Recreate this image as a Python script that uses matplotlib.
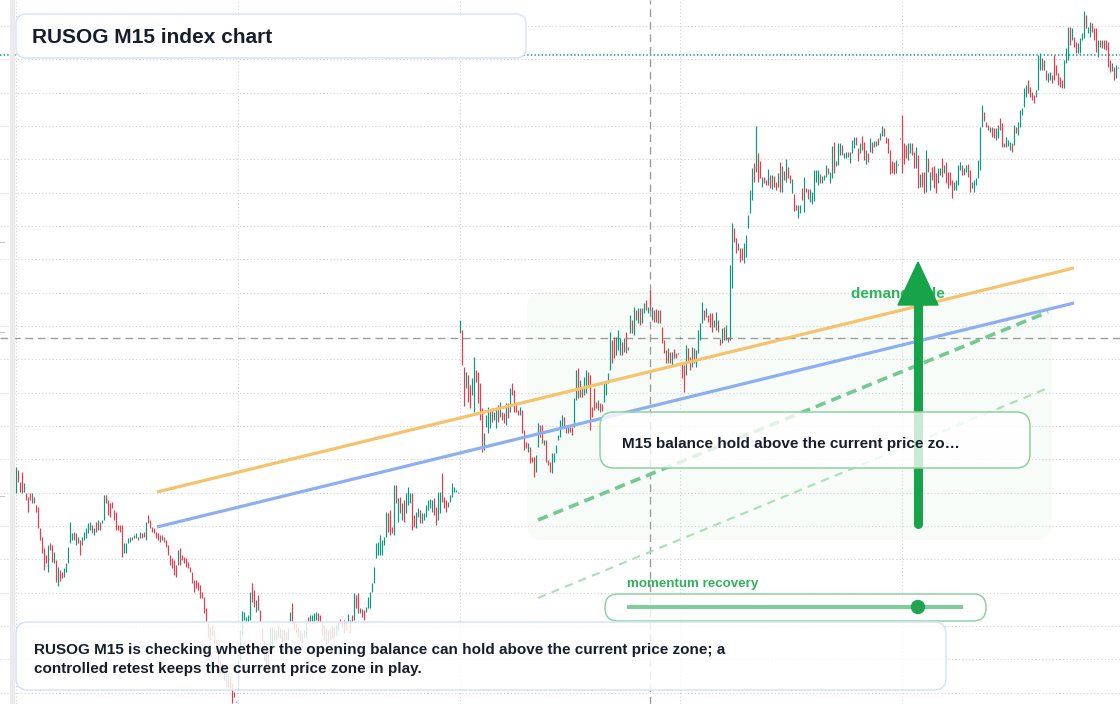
import matplotlib
matplotlib.use("Agg")
import matplotlib.pyplot as plt
import numpy as np
from matplotlib.patches import FancyBboxPatch, Polygon, Circle, Rectangle
from matplotlib.transforms import Affine2D, IdentityTransform

W, H, DPI = 1120, 704, 100
plt.rcParams['font.family'] = ['Liberation Sans', 'DejaVu Sans']
plt.rcParams['lines.scale_dashes'] = False

# ---------------- data (M15 candles, index points) ----------------
opens = [
    211, 234, 222, 232, 212, 211, 207, 211, 201, 207, 199, 197, 176, 167, 156, 149, 132, 161, 159, 141,
    144, 118, 134, 132, 127, 132, 141, 161, 164, 172, 159, 167, 164, 159, 164, 166, 171, 174, 179, 169,
    182, 174, 182, 181, 184, 209, 204, 201, 202, 194, 192, 179, 179, 179, 151, 151, 161, 162, 167, 166,
    166, 167, 166, 171, 172, 164, 189, 184, 177, 176, 172, 171, 169, 164, 167, 164, 159, 149, 146, 144,
    139, 139, 156, 149, 147, 146, 142, 137, 132, 124, 124, 122, 119, 112, 107, 96, 81, 77, 69, 74,
    64, 51, 44, 41, 24, 34, 17, 27, 21, 12, 2, 14, 44, 69, 84, 82, 82, 84, 121, 114,
    92, 109, 94, 77, 64, 37, 57, 51, 54, 76, 64, 67, 76, 74, 64, 72, 64, 81, 101, 82,
    81, 77, 64, 71, 66, 67, 87, 82, 82, 82, 84, 91, 89, 82, 64, 76, 61, 76, 66, 77,
    68, 74, 85, 82, 84, 74, 82, 84, 89, 84, 109, 111, 91, 95, 94, 92, 96, 96, 112, 121,
    146, 149, 149, 149, 159, 167, 191, 194, 177, 169, 219, 182, 207, 184, 204, 191, 199, 201, 211, 189,
    176, 187, 194, 181, 184, 187, 194, 196, 192, 206, 197, 184, 191, 231, 207, 204, 197, 202, 207, 212,
    212, 211,
    371, 374, 337, 316, 329, 319, 309, 292, 334, 332, 321, 296, 254, 277, 271, 276, 296, 284, 276, 299,
    287, 292, 291, 279, 301, 292, 321, 314, 299, 294, 289, 294, 274, 262, 252, 257, 247, 247, 232, 257,
    279, 279, 259, 264, 244, 242, 231, 242, 251, 264, 267, 277, 287, 279, 271, 277, 277, 277, 304, 336,
    307, 317, 309, 311, 332, 329, 297, 316, 302, 294, 301, 300, 302, 309, 321, 334, 364, 367, 349, 354,
    349, 362, 352, 372, 354, 371, 384, 369, 394, 381, 396, 381, 391, 404, 391, 414, 384, 394, 395, 381,
    394, 377, 364, 354, 341, 352, 339, 355, 351, 350, 366,
    342, 339, 329, 356, 347, 337, 356, 337, 351, 364, 381, 394, 387, 389, 391, 391, 377, 374, 384, 365,
    361, 377, 364, 367, 364, 416, 476, 466, 454, 456, 456, 441, 447, 476, 491, 504, 541, 532, 551, 543,
    517, 527, 524, 519, 529, 515, 528, 522, 517, 542, 512, 533, 522, 537, 529, 511, 510, 499, 486, 491,
    516, 492, 516, 515, 502, 500, 503, 522, 519, 530, 521, 524, 527, 536, 521, 526, 562, 538, 539, 549,
    559, 546, 546, 552, 541, 551, 556, 567, 556, 551, 568, 562, 540, 551, 552, 562, 557, 558, 566, 564,
    568, 576, 567, 566, 554, 543, 542, 531, 539, 565,
    589, 561, 559, 544, 551, 561, 552, 536, 549, 517, 532, 532, 512, 546, 514, 537, 538, 531, 521, 529,
    546, 531, 542, 532, 532, 524, 514, 514, 519, 534, 539, 529, 532, 540, 534, 516, 512, 519, 526, 534,
    577, 592, 582, 579, 572, 577, 576, 564, 566, 586, 581, 561, 557, 558, 554, 561, 559, 577, 569, 577,
    589, 597, 607, 624, 617, 612, 609, 607, 614, 634, 646, 634, 634, 622, 624, 629, 649, 639, 631, 627,
    624, 616, 641, 644, 677, 664, 667, 662, 651, 651, 664, 666, 689, 671, 667, 681, 676, 676, 647, 664,
    656, 664, 664, 662, 644, 633, 637, 626, 636,
]
closes = [
    237, 222, 212, 211, 221, 204, 192, 204, 211, 201, 192, 176, 164, 151, 134, 141, 159, 154, 142, 152,
    122, 137, 123, 126, 136, 141, 157, 182, 171, 164, 171, 161, 149, 167, 172, 176, 181, 182, 171, 176,
    172, 184, 174, 184, 209, 201, 189, 187, 196, 184, 174, 174, 172, 147, 161, 161, 166, 167, 164, 169,
    171, 164, 172, 166, 167, 182, 181, 176, 172, 171, 166, 164, 162, 169, 162, 157, 149, 139, 136, 129,
    127, 154, 139, 144, 141, 137, 136, 132, 121, 112, 116, 114, 106, 106, 91, 82, 67, 64, 79, 61,
    51, 41, 31, 31, 37, 17, 31, 16, 1, 7, 3, 44, 74, 93, 92, 87, 89, 112, 102, 97,
    104, 94, 82, 64, 44, 61, 31, 77, 77, 64, 74, 79, 66, 61, 74, 64, 76, 92, 82, 74,
    71, 67, 74, 61, 74, 81, 82, 89, 89, 91, 92, 82, 82, 69, 79, 59, 74, 64, 78, 67,
    79, 82, 81, 77, 71, 82, 90, 71, 82, 111, 96, 91, 96, 87, 84, 97, 107, 112, 121, 137,
    161, 162, 169, 164, 167, 192, 172, 169, 171, 219, 201, 206, 191, 201, 182, 211, 217, 211, 174, 177,
    192, 196, 181, 191, 191, 199, 204, 205, 204, 189, 179, 212, 212, 202, 196, 192, 202, 209, 221, 217,
    214, 212,
    384, 339, 298, 332, 302, 296, 326, 347, 322, 301, 284, 252, 271, 289, 297, 294, 282, 292, 296, 282,
    302, 284, 281, 301, 286, 316, 309, 292, 292, 289, 297, 271, 254, 256, 261, 241, 242, 227, 249, 281,
    267, 261, 264, 242, 239, 232, 251, 251, 259, 269, 284, 289, 277, 271, 277, 272, 269, 306, 334, 306,
    324, 307, 327, 334, 319, 274, 287, 294, 296, 304, 292, 293, 321, 322, 331, 372, 341, 346, 367, 374,
    366, 349, 366, 351, 357, 389, 371, 397, 384, 396, 379, 396, 401, 394, 397, 394, 397, 382, 382, 394,
    381, 361, 351, 341, 356, 341, 352, 346, 346, 351, 367,
    326, 312, 359, 342, 334, 357, 341, 354, 374, 381, 402, 384, 396, 382, 377, 372, 384, 392, 372, 359,
    376, 364, 379, 362, 439, 481, 462, 451, 461, 442, 444, 461, 469, 489, 514, 536, 522, 578, 522, 526,
    527, 521, 519, 535, 516, 529, 517, 514, 531, 512, 538, 524, 545, 526, 521, 525, 493, 494, 499, 499,
    504, 527, 512, 505, 515, 512, 534, 534, 534, 521, 528, 529, 539, 530, 532, 558, 531, 543, 561, 561,
    549, 551, 552, 547, 552, 564, 567, 559, 543, 561, 554, 544, 554, 542, 566, 551, 563, 563, 559, 571,
    578, 568, 561, 551, 530, 531, 530, 544, 540, 566,
    531, 540, 546, 561, 561, 549, 536, 557, 516, 530, 517, 511, 554, 532, 532, 524, 516, 511, 536, 536,
    527, 539, 521, 516, 519, 506, 522, 524, 539, 542, 529, 536, 539, 527, 512, 522, 524, 526, 544, 577,
    599, 583, 577, 574, 577, 567, 566, 576, 579, 574, 557, 557, 567, 564, 562, 552, 579, 571, 582, 594,
    596, 616, 619, 611, 607, 604, 601, 614, 649, 651, 634, 644, 624, 631, 632, 621, 624, 629, 619, 617,
    616, 644, 656, 677, 659, 676, 657, 651, 661, 666, 671, 693, 676, 677, 682, 672, 664, 652, 664, 657,
    664, 655, 654, 637, 632, 641, 624, 639, 637,
]

session_starts = [0, 111, 222, 332, 443]          # candle index of each session open
last_price = 649
crosshair = (317, 366)                            # (candle index, price)
resistance_line = ([70.75, 529.25], [212, 436])   # orange trendline
support_line = ([70.75, 529.25], [177, 401])      # blue trendline
projection_upper = ([261.25, 516.25], [184, 392])
projection_lower = ([261.25, 516.25], [106, 316])
demand_zone = (255.75, 518.25, 164, 412)          # x0, x1, low, high
arrow_x, arrow_from, arrow_to = 451.25, 180, 442
slider_value = 0.866

title_text = "RUSOG M15 index chart"
summary_lines = [
    "RUSOG M15 is checking whether the opening balance can hold above the current price zone; a",
    "controlled retest keeps the current price zone in play.",
]
callout_text = "M15 balance hold above the current price zo\u2026"
zone_label = "demand side"
slider_label = "momentum recovery"

UP, DOWN = '#089981', '#f23645'
GREEN = '#16a34a'
LABEL_GREEN = '#2eb35c'
DARK = '#161d2b'

# ---------------- figure ----------------
fig = plt.figure(figsize=(W / DPI, H / DPI), dpi=DPI)
fig.patch.set_facecolor('white')
ax = fig.add_axes([0, 0, 1, 1])
ax.set_xlim(-7.75, 552.25)
ax.set_ylim(0, 704)
for s in ax.spines.values():
    s.set_visible(False)
ax.set_facecolor('none')
ax.set_xticks(session_starts)
ax.set_yticks(np.arange(678, 0, -100 / 3))
ax.tick_params(length=0, labelleft=False, labelbottom=False)
ax.grid(True, color='#cfcfcf', linewidth=0.75, linestyle=(0, (0.75, 1.75)), zorder=1)
ax.set_axisbelow(True)

PX = Affine2D().scale(1, -1).translate(0, H)   # pixel coords from top-left

# left strip + tiny axis marks
fig.patches.append(Rectangle((10, 0), 4, H, transform=PX, color='#ebebeb', zorder=0))
for yy in (242, 332, 496):
    ax.plot([0, 4], [yy, yy], transform=PX, color='#c8c8c8', lw=0.8, zorder=1)

# demand zone
(zx0, zy0) = ax.transData.transform((demand_zone[0], demand_zone[2]))
(zx1, zy1) = ax.transData.transform((demand_zone[1], demand_zone[3]))
ax.add_patch(FancyBboxPatch((zx0, zy0), zx1 - zx0, zy1 - zy0,
                            boxstyle="round,pad=0,rounding_size=16",
                            transform=IdentityTransform(), facecolor='#f7fcf8',
                            edgecolor='none', zorder=0.5))

# crosshair + last price line
ax.axvline(crosshair[0], color='#9a9a9a', lw=0.95, linestyle=(0, (5.5, 3.5)), zorder=2.5)
ax.axhline(crosshair[1], color='#9a9a9a', lw=0.95, linestyle=(0, (5.5, 3.5)), zorder=2.5)
ax.axhline(last_price, color=UP, lw=1.1, linestyle=(0, (1.0, 1.6)), zorder=2.5)

# candles (1-px bars from open to close)
o = np.array(opens, dtype=float)
c = np.array(closes, dtype=float)
idx = np.arange(len(o))
lo = np.minimum(o, c)
hi = np.maximum(o, c)
hi = np.where(hi - lo < 1.5, lo + 1.5, hi)
cols = [UP if cc >= oo else DOWN for oo, cc in zip(opens, closes)]
ax.vlines(idx, lo, hi, colors=cols, linewidths=0.85, zorder=3, antialiased=True)

# trendlines
ax.plot(*resistance_line, color='#f6c26c', lw=2.3, solid_capstyle='butt', zorder=4)
ax.plot(*support_line, color='#8daef0', lw=2.3, solid_capstyle='butt', zorder=4)
ax.plot(*projection_upper, color='#74c891', lw=2.6, linestyle=(0, (7.5, 4.5)), zorder=4)
ax.plot(*projection_lower, color='#a9dfb9', lw=1.5, linestyle=(0, (6, 4.5)), zorder=4)

# zone label then arrow on top
ax.text(851, 298.3, zone_label, transform=PX, fontsize=11, fontweight='bold',
        color=LABEL_GREEN, va='baseline', ha='left', zorder=5)
ax.plot([arrow_x, arrow_x], [arrow_from, arrow_to - 40], color=GREEN, lw=6.5,
        solid_capstyle='round', zorder=6)
ax.add_patch(Polygon([(arrow_x - 10, arrow_to - 43), (arrow_x + 10, arrow_to - 43),
                      (arrow_x, arrow_to)], closed=True, color=GREEN, zorder=6))

# callout box
ax.add_patch(FancyBboxPatch((600, 412), 430, 56, boxstyle="round,pad=0,rounding_size=14",
                            transform=PX, facecolor=(1, 1, 1, 0.78), edgecolor='#8fd2a3',
                            lw=1.1, zorder=7))
ax.text(622, 447.7, callout_text, transform=PX, fontsize=11, fontweight='bold',
        color=DARK, va='baseline', ha='left', zorder=8)

# slider
ax.text(627, 587, slider_label, transform=PX, fontsize=9.6, fontweight='bold',
        color=LABEL_GREEN, va='baseline', ha='left', zorder=8)
ax.add_patch(FancyBboxPatch((605, 594), 381, 27, boxstyle="round,pad=0,rounding_size=13",
                            transform=PX, facecolor=(1, 1, 1, 0.8), edgecolor='#8fd2a3',
                            lw=1.1, zorder=7))
sx0, sx1 = 627, 963
ax.plot([sx0, sx1], [607, 607], transform=PX, color='#7fcd98', lw=2.9,
        solid_capstyle='butt', zorder=8)
ax.add_patch(Circle((sx0 + slider_value * (sx1 - sx0), 607), 6.5, transform=PX,
                    color='#22a351', zorder=9))

# bottom summary box
ax.add_patch(FancyBboxPatch((16, 622), 930, 68, boxstyle="round,pad=0,rounding_size=12",
                            transform=PX, facecolor=(1, 1, 1, 0.82), edgecolor='#d6e4f8',
                            lw=1.1, zorder=9))
ax.text(34, 653.7, summary_lines[0], transform=PX, fontsize=11, fontweight='bold',
        color=DARK, va='baseline', ha='left', zorder=10)
ax.text(34, 673, summary_lines[1], transform=PX, fontsize=11, fontweight='bold',
        color=DARK, va='baseline', ha='left', zorder=10)

# title box
ax.add_patch(FancyBboxPatch((16, 14), 510, 44, boxstyle="round,pad=0,rounding_size=10",
                            transform=PX, facecolor='white', edgecolor='#d6e4f8',
                            lw=1.1, zorder=9))
ax.text(32, 43.3, title_text, transform=PX, fontsize=15, fontweight='bold',
        color=DARK, va='baseline', ha='left', zorder=10)

fig.savefig('out.png', dpi=DPI, facecolor='white')
